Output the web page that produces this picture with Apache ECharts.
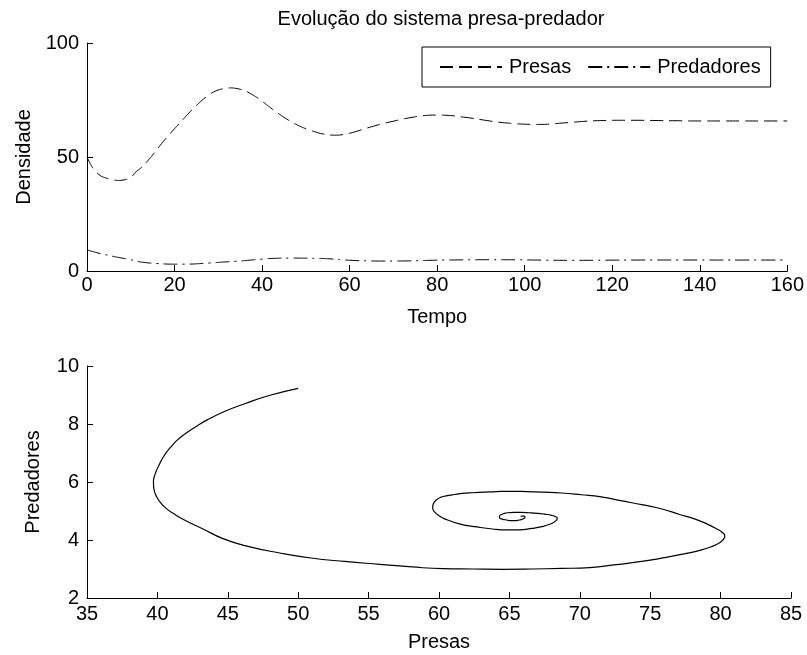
<!DOCTYPE html>
<html><head><meta charset="utf-8">
<script src="https://cdn.jsdelivr.net/npm/echarts@6/dist/echarts.min.js"></script>
<style>html,body{margin:0;padding:0;background:#fff}#c{width:807px;height:655px}</style>
</head><body><div id="c"></div>
<script>
const titulo = 'Evolução do sistema presa-predador';
const tempo = [0,0.5,1,1.5,2,2.5,3,3.5,4,4.5,5,5.5,6,6.5,7,7.5,8,8.5,9,9.5,10,10.5,11,12,13,14,15,16,17,18,19,20,21,22,23,24,25,26,27,28,29,30,
  31,32,33,34,35,36,37,38,39,40,41,42,43,44,45,46,47,48,49,50,51,52,53,54,55,56,57,58,59,60,
  62,64,66,68,70,72,74,76,78,80,82,84,86,88,90,92,94,96,98,100,102,104,106,108,110,112,114,116,118,120,
  125,130,135,140,145,150,155,160];
const presas = [50.0,48.0,46.2,44.8,43.6,42.7,41.9,41.35,40.98,40.7,40.43,40.17,39.95,39.8,39.72,39.73,39.8,39.95,40.19,40.6,41.14,41.95,43.2,
  44.7,46.5,48.6,50.9,53.3,55.8,58.1,60.3,62.4,
  64.5,66.6,68.7,70.7,72.6,74.4,76.0,77.4,78.6,79.4,
  79.9,80.2,80.3,80.1,79.7,79.1,78.2,77.1,75.9,74.5,73.0,71.5,70.1,68.7,67.4,66.2,65.1,64.1,63.2,62.4,
  61.7,61.1,60.5,60.1,59.8,59.6,59.55,59.7,60.0,60.4,
  61.5,62.7,63.8,64.8,65.7,66.6,67.3,67.9,68.3,68.4,68.3,68.0,67.5,67.0,66.4,65.8,65.3,64.9,64.6,64.4,
  64.3,64.3,64.5,64.8,65.1,65.4,65.7,65.9,66.0,66.1,
  66.1,66.0,65.9,65.8,65.8,65.8,65.8,65.8];
const predadores = [9.23,8.99,8.7,8.44,8.16,7.9,7.64,7.42,7.22,7.06,6.87,6.64,6.41,6.22,6.03,5.85,5.66,5.49,5.31,5.1,4.91,4.68,4.39,
  4.04,3.77,3.56,3.38,3.26,3.16,3.07,3.01,3.0,
  2.99,3.0,3.02,3.05,3.15,3.26,3.39,3.52,3.65,3.78,
  3.9,4.02,4.14,4.27,4.39,4.54,4.72,4.88,5.06,5.21,5.35,5.49,5.56,5.62,5.65,5.67,5.68,5.67,5.65,5.63,
  5.61,5.57,5.52,5.47,5.38,5.25,5.1,4.96,4.84,4.73,
  4.55,4.45,4.38,4.35,4.35,4.4,4.46,4.55,4.66,4.75,4.8,4.85,4.89,4.92,4.94,4.95,4.95,4.94,4.91,4.87,
  4.82,4.77,4.72,4.69,4.67,4.67,4.69,4.71,4.74,4.77,
  4.8,4.82,4.82,4.81,4.8,4.8,4.8,4.8];
const ticksTempo = [0,20,40,60,80,100,120,140,160];
const ticksDensidade = [0,50,100];
const ticksPresas = [35,40,45,50,55,60,65,70,75,80,85];
const ticksPredadores = [2,4,6,8,10];

const FONT = '"Liberation Sans", Arial, sans-serif';
const txt = {color:'#000', fontFamily:FONT, fontSize:20};
function axis(ticks, name, gap, extra) {
  return Object.assign({
    type:'value', min:ticks[0], max:ticks[ticks.length-1], interval:ticks[1]-ticks[0],
    name:name, nameLocation:'middle', nameGap:gap, nameTextStyle:txt,
    axisLine:{show:true, onZero:false, lineStyle:{color:'#000', width:1}},
    axisTick:{show:true, inside:true, length:6, lineStyle:{color:'#000'}},
    axisLabel:Object.assign({margin:4}, txt),
    splitLine:{show:false}
  }, extra||{});
}
const chart = echarts.init(document.getElementById('c'), null, {renderer:'canvas'});
chart.setOption({
  animation:false,
  backgroundColor:'#fff',
  title:{text:titulo, left:436, textAlign:'center', top:4, textStyle:{color:'#000', fontFamily:FONT, fontSize:20, fontWeight:'normal'}},
  legend:{
    left:422, top:47, orient:'horizontal',
    backgroundColor:'#fff', borderColor:'#000', borderWidth:1,
    padding:[10,10,10,17], itemWidth:62, itemHeight:20, itemGap:16,
    itemStyle:{opacity:0},
    textStyle:{color:'#000', fontFamily:FONT, fontSize:20, padding:[0,0,0,2]},
    data:['Presas','Predadores']
  },
  grid:[
    {left:87, top:43, width:703, height:228},
    {left:87, top:366, width:704, height:232}
  ],
  xAxis:[
    axis(ticksTempo, 'Tempo', 36, {gridIndex:0}),
    axis(ticksPresas, 'Presas', 34, {gridIndex:1, axisLabel:Object.assign({margin:6}, txt)})
  ],
  yAxis:[
    axis(ticksDensidade, 'Densidade', 52, {gridIndex:0, axisLabel:Object.assign({margin:8}, txt)}),
    axis(ticksPredadores, 'Predadores', 44, {gridIndex:1, axisLabel:Object.assign({margin:8}, txt)})
  ],
  series:[
    {name:'Presas', type:'line', xAxisIndex:0, yAxisIndex:0, showSymbol:false, symbol:'none', smooth:0.5,
     lineStyle:{color:'#000', width:1, type:[13,6]}, itemStyle:{color:'#000'},
     data:tempo.map((t,i)=>[t,presas[i]])},
    {name:'Predadores', type:'line', xAxisIndex:0, yAxisIndex:0, showSymbol:false, symbol:'none', smooth:0.5,
     lineStyle:{color:'#000', width:1, type:[14,5,2,5]}, itemStyle:{color:'#000'},
     data:tempo.map((t,i)=>[t,predadores[i]])},
    {name:'Fase', type:'line', xAxisIndex:1, yAxisIndex:1, showSymbol:false, symbol:'none', smooth:0.5,
     lineStyle:{color:'#000', width:1.2}, itemStyle:{color:'#000'},
     data:presas.map((p,i)=>[p,predadores[i]])}
  ]
});
</script></body></html>
